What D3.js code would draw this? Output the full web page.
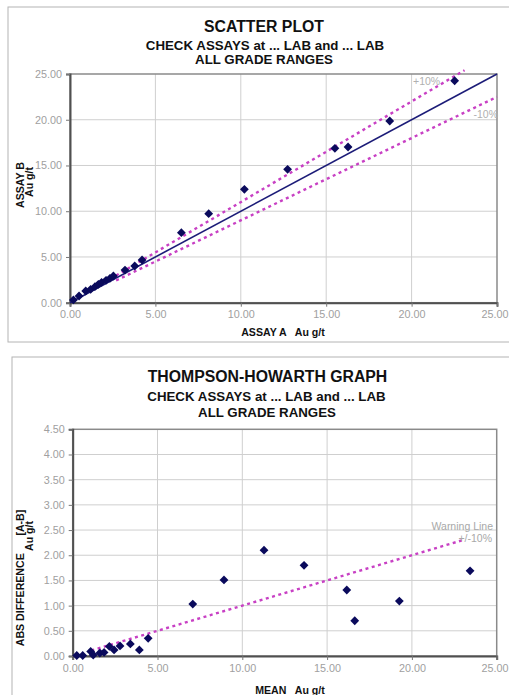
<!DOCTYPE html>
<html>
<head>
<meta charset="utf-8">
<script src="https://cdnjs.cloudflare.com/ajax/libs/d3/7.8.5/d3.min.js"></script>
<style>
  body { margin: 0; background: #fff; }
  svg { display: block; font-family: "Liberation Sans", Arial, sans-serif; }
</style>
</head>
<body>
<svg id="chart" width="509" height="695"></svg>
<script>
// scatter plot : assay A vs assay B (Au g/t)
const assayA = [0.20, 0.53, 0.92, 1.21, 1.46, 1.66, 1.85, 2.11, 2.34, 2.54, 3.22, 3.79, 4.22, 6.52, 8.12, 10.21, 12.74, 15.51, 16.28, 18.72, 22.52];
const assayB = [0.30, 0.73, 1.28, 1.46, 1.75, 2.01, 2.23, 2.45, 2.66, 2.92, 3.57, 4.01, 4.67, 7.65, 9.73, 12.39, 14.58, 16.87, 17.02, 19.86, 24.26];

// lines on the scatter plot
const oneToOne = [[0, 0], [25, 25]];
const plus10 = [[2.7, 2.97], [23.1, 25.41]];
const minus10 = [[2.7, 2.43], [25, 22.5]];

// thompson-howarth : mean vs abs difference
const meanAB = [0.24, 0.59, 1.06, 1.21, 1.60, 1.85, 2.16, 2.44, 2.79, 3.40, 3.93, 4.45, 7.08, 8.92, 11.28, 13.64, 16.16, 16.63, 19.26, 23.43];
const absDiff = [0.01, 0.01, 0.09, 0.02, 0.06, 0.07, 0.19, 0.12, 0.20, 0.24, 0.12, 0.35, 1.03, 1.51, 2.10, 1.80, 1.31, 0.70, 1.09, 1.69];
const warningLine = [[1.1, 0.11], [23.1, 2.31]];

const xTicks = [0, 5, 10, 15, 20, 25];
const yTicksTop = [0, 5, 10, 15, 20, 25];
const yTicksBottom = [0, 0.5, 1, 1.5, 2, 2.5, 3, 3.5, 4, 4.5];

const fmt = d3.format(".2f");
const svg = d3.select("#chart");

const navy = "#0a0a5c";
const pink = "#c840c4";

function diamond(r) {
  return "M0," + (-r) + "L" + r + ",0L0," + r + "L" + (-r) + ",0Z";
}

function drawChart(o) {
  const x = d3.scaleLinear().domain([0, 25]).range([o.left, o.right]);
  const y = d3.scaleLinear().domain(o.yDomain).range([o.bottom, o.top]);

  // outer frame
  svg.append("rect")
    .attr("x", o.frame[0]).attr("y", o.frame[1])
    .attr("width", o.frame[2]).attr("height", o.frame[3])
    .attr("fill", "none").attr("stroke", "#b4b4b4").attr("stroke-width", 1);

  // titles
  o.titles.forEach(function(t) {
    svg.append("text")
      .attr("x", t.x).attr("y", t.y)
      .attr("text-anchor", "middle")
      .attr("font-weight", "bold")
      .attr("font-size", t.size)
      .attr("fill", "#111")
      .text(t.text);
  });

  const g = svg.append("g");

  // grid
  g.selectAll(".gx").data(xTicks.slice(1, -1)).enter().append("line")
    .attr("x1", d => x(d)).attr("x2", d => x(d))
    .attr("y1", o.top).attr("y2", o.bottom)
    .attr("stroke", "#cfcfcf").attr("stroke-width", 1);
  g.selectAll(".gy").data(o.yTicks.slice(1, -1)).enter().append("line")
    .attr("x1", o.left).attr("x2", o.right)
    .attr("y1", d => y(d)).attr("y2", d => y(d))
    .attr("stroke", "#cfcfcf").attr("stroke-width", 1);

  // plot area border
  g.append("rect")
    .attr("x", o.left).attr("y", o.top)
    .attr("width", o.right - o.left).attr("height", o.bottom - o.top)
    .attr("fill", "none").attr("stroke", "#8a8a8a").attr("stroke-width", 1.5);

  // axes
  const xAxis = d3.axisBottom(x).tickValues(xTicks).tickFormat(fmt).tickSize(4).tickPadding(4);
  const yAxis = d3.axisLeft(y).tickValues(o.yTicks).tickFormat(fmt).tickSize(4).tickPadding(4);
  const gx = g.append("g").attr("transform", "translate(0," + o.bottom + ")").call(xAxis);
  const gy = g.append("g").attr("transform", "translate(" + o.left + ",0)").call(yAxis);
  [gx, gy].forEach(function(a) {
    a.select(".domain").attr("stroke", "#505050").attr("stroke-width", 2);
    a.selectAll(".tick line").attr("stroke", "#777");
    a.selectAll(".tick text")
      .attr("fill", "#a0a0a0")
      .attr("font-size", 10.8)
      .attr("font-family", "'Liberation Sans', Arial, sans-serif");
  });
  // last x label sits against the right edge of the page
  gx.selectAll(".tick text").filter(d => d === 25)
    .attr("text-anchor", "end").attr("x", 508 - o.right);

  // axis titles
  svg.append("text")
    .attr("x", o.xTitle.x).attr("y", o.xTitle.y)
    .attr("text-anchor", "middle").attr("font-weight", "bold")
    .attr("font-size", 10.6).attr("fill", "#111")
    .attr("xml:space", "preserve")
    .text(o.xTitle.text);
  o.yTitle.forEach(function(t) {
    svg.append("text")
      .attr("transform", "translate(" + t.x + "," + t.y + ") rotate(-90)")
      .attr("text-anchor", "middle").attr("font-weight", "bold")
      .attr("font-size", 10.6).attr("fill", "#111")
      .attr("xml:space", "preserve")
      .text(t.text);
  });

  const line = d3.line().x(d => x(d[0])).y(d => y(d[1]));
  return { x: x, y: y, g: g, line: line };
}

// ---- SCATTER PLOT ----
const scatter = drawChart({
  left: 70, right: 497, top: 74, bottom: 302.7,
  yDomain: [0, 25], yTicks: yTicksTop,
  frame: [8, 7, 520, 335],
  titles: [
    { x: 264, y: 32, size: 15.8, text: "SCATTER PLOT" },
    { x: 265, y: 50, size: 13.3, text: "CHECK ASSAYS at ... LAB and ... LAB" },
    { x: 264, y: 63.5, size: 13.3, text: "ALL GRADE RANGES" }
  ],
  xTitle: { x: 283, y: 336, text: "ASSAY A   Au g/t" },
  yTitle: [
    { x: 23.5, y: 185, text: "ASSAY B" },
    { x: 33, y: 182, text: "Au g/t" }
  ]
});

scatter.g.append("path").datum(oneToOne)
  .attr("d", scatter.line).attr("fill", "none")
  .attr("stroke", "#1c1c78").attr("stroke-width", 1.6);
[plus10, minus10].forEach(function(l) {
  scatter.g.append("path").datum(l)
    .attr("d", scatter.line).attr("fill", "none")
    .attr("stroke", pink).attr("stroke-width", 2.4)
    .attr("stroke-dasharray", "3,3.5");
});

scatter.g.selectAll(".pt").data(assayA).enter().append("path")
  .attr("transform", (d, i) => "translate(" + scatter.x(d) + "," + scatter.y(assayB[i]) + ")")
  .attr("d", diamond(4.4)).attr("fill", navy);

svg.append("text").attr("x", 413).attr("y", 85)
  .attr("font-size", 10.5).attr("fill", "#b0b0b0").text("+10%");
svg.append("text").attr("x", 498).attr("y", 118).attr("text-anchor", "end")
  .attr("font-size", 10.5).attr("fill", "#b0b0b0").text("-10%");

// ---- THOMPSON-HOWARTH GRAPH ----
const th = drawChart({
  left: 72.7, right: 496.7, top: 429.3, bottom: 656,
  yDomain: [0, 4.5], yTicks: yTicksBottom,
  frame: [12, 357, 520, 360],
  titles: [
    { x: 267.5, y: 382, size: 15.8, text: "THOMPSON-HOWARTH GRAPH" },
    { x: 266.5, y: 400.5, size: 13.3, text: "CHECK ASSAYS at ... LAB and ... LAB" },
    { x: 267, y: 417, size: 13.3, text: "ALL GRADE RANGES" }
  ],
  xTitle: { x: 290, y: 694, text: "MEAN   Au g/t" },
  yTitle: [
    { x: 23.5, y: 578, text: "ABS DIFFERENCE      [A-B]" },
    { x: 33, y: 536, text: "Au g/t" }
  ]
});

th.g.append("path").datum(warningLine)
  .attr("d", th.line).attr("fill", "none")
  .attr("stroke", pink).attr("stroke-width", 2.4)
  .attr("stroke-dasharray", "3,3.5");

th.g.selectAll(".pt").data(meanAB).enter().append("path")
  .attr("transform", (d, i) => "translate(" + th.x(d) + "," + th.y(absDiff[i]) + ")")
  .attr("d", diamond(4.4)).attr("fill", navy);

svg.append("text").attr("x", 493).attr("y", 529.5).attr("text-anchor", "end")
  .attr("font-size", 10.5).attr("fill", "#a8a8a8").text("Warning Line");
svg.append("text").attr("x", 492).attr("y", 541.5).attr("text-anchor", "end")
  .attr("font-size", 10.5).attr("fill", "#a8a8a8").text("+/-10%");
</script>
</body>
</html>
